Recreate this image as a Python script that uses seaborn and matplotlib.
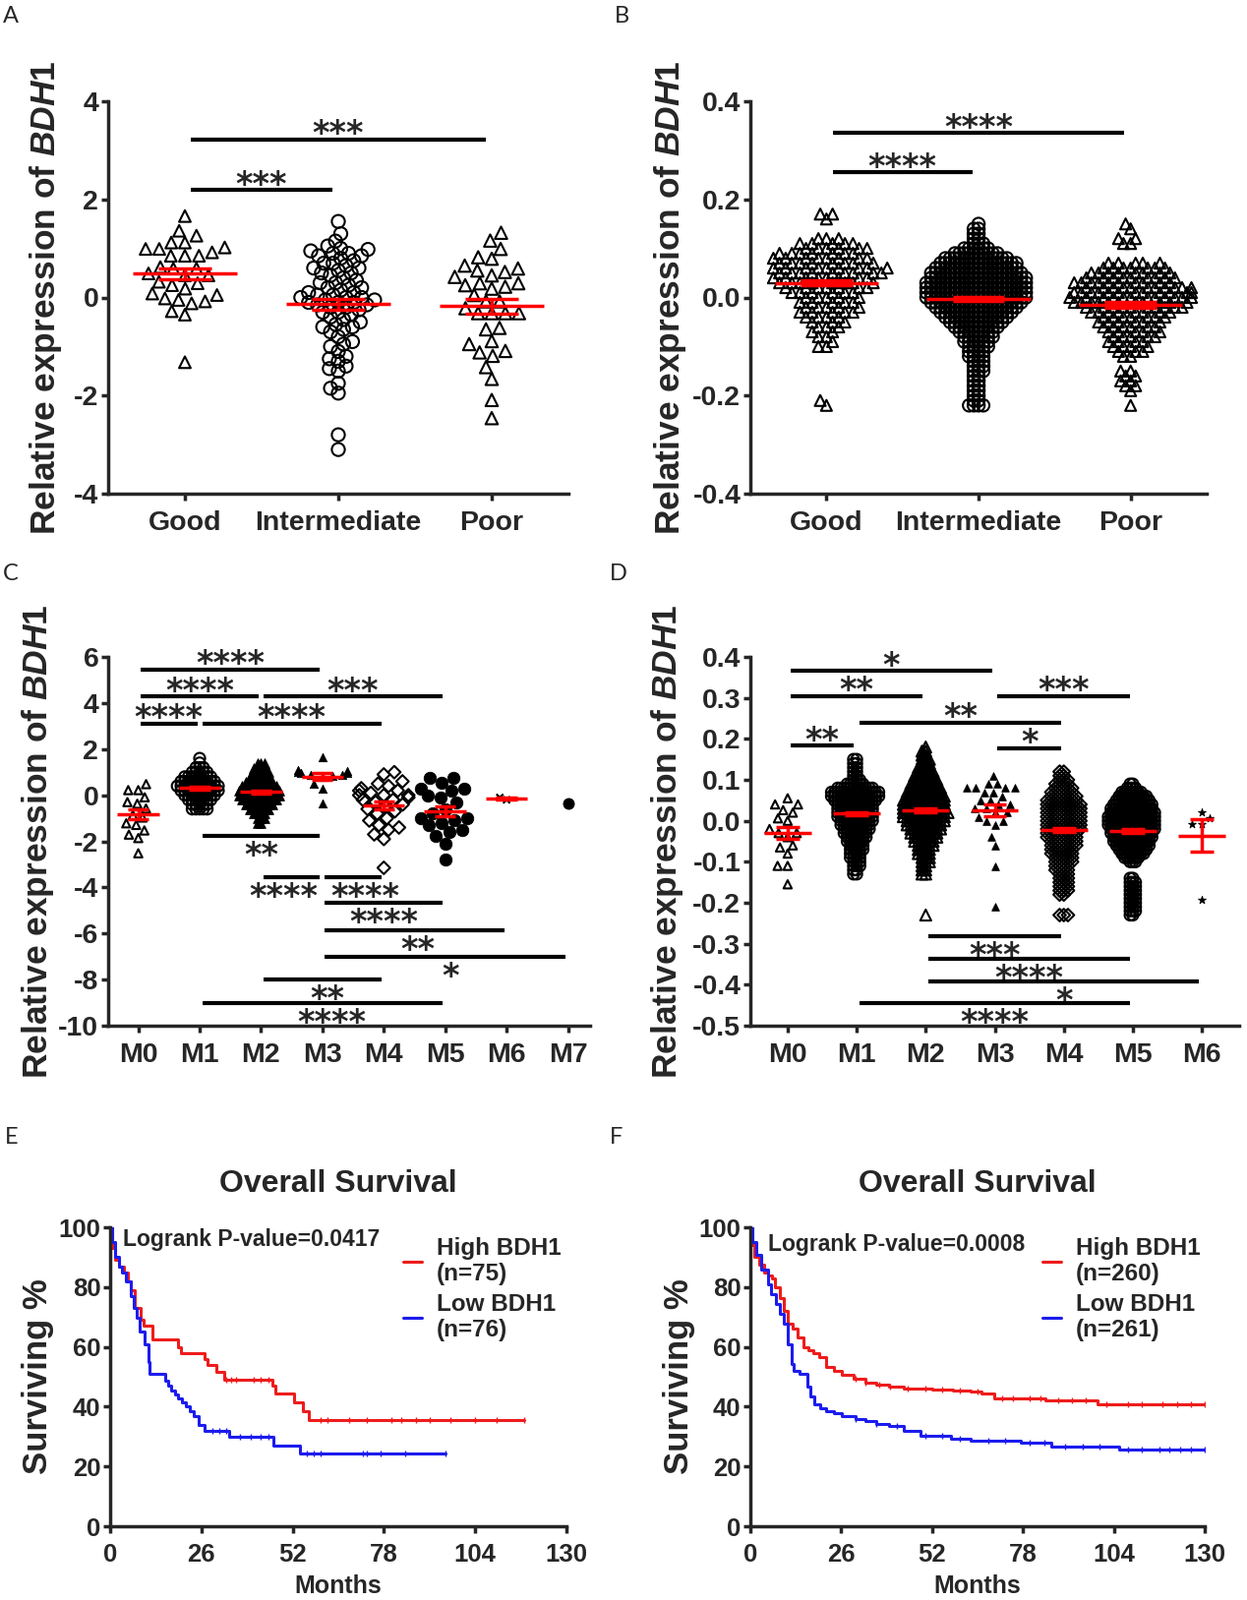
import numpy as np
import pandas as pd
import matplotlib
matplotlib.use('Agg')
import matplotlib.pyplot as plt
from matplotlib.ticker import FormatStrFormatter
import seaborn as sns

# ---------------- panel A: BDH1 by risk group (cohort 1) ----------------
risk_groups = ['Good', 'Intermediate', 'Poor']
a_good = [0.92, 0.18, 0.99, 0.59, 0.32, -0.08, 1.12, 0.85, 0.49, -0.02, 1.66, 0.85,
          0.59, 0.45, 0.25, -0.12, -0.35, -1.32, 1.36, 1.12, 0.85, 0.45, 0.05, -0.28,
          0.99, 0.62, 0.29, 0.08, 1.26, 1.02, -0.05]
a_inter = [1.55, 1.3, 1.15, 1.05, 1.0, 0.98, 0.95, 0.9, 0.9, 0.85, 0.85, 0.8, 0.75, 0.7,
           0.7, 0.65, 0.6, 0.6, 0.55, 0.5, 0.5, 0.45, 0.4, 0.35, 0.3, 0.3, 0.25, 0.2, 0.2,
           0.15, 0.1, 0.1, 0.05, 0.05, 0.0, 0.0, 0.0, -0.05, -0.05, -0.1, -0.1, -0.1, -0.15,
           -0.15, -0.2, -0.2, -0.25, -0.3, -0.3, -0.35, -0.4, -0.45, -0.5, -0.55, -0.6, -0.6,
           -0.65, -0.7, -0.8, -0.9, -0.95, -1.0, -1.1, -1.2, -1.25, -1.3, -1.4, -1.45, -1.5,
           -1.75, -1.85, -1.95, -2.8, -3.1]
a_poor = [0.79, 0.52, 0.29, -0.08, -0.32, 1.32, 0.59, 0.29, -0.32, -0.62, -0.95, -1.19,
          0.99, 0.65, 0.45, 0.25, -0.22, -0.65, -1.09, -1.42, -1.66, -2.09, -2.46, 1.16,
          0.42, 0.22, 0.05, -0.32, -0.89, -1.12, 0.82, 0.55, 0.18, -0.08, -0.32]

# ---------------- panel B: BDH1 by risk group (cohort 2) ----------------
# dense groups: value levels and the number of dots sitting on each level
b_good_lv = [0.17, 0.16, 0.12, 0.11, 0.10, 0.09, 0.08, 0.07, 0.06, 0.05, 0.04, 0.03, 0.02,
             0.01, 0.00, -0.01, -0.02, -0.03, -0.04, -0.05, -0.06, -0.07, -0.08, -0.09,
             -0.10, -0.21, -0.22]
b_good_n = [2, 1, 3, 5, 6, 7, 8, 8, 9, 9, 8, 8, 7, 6, 5, 5, 5, 5, 4, 3, 3, 2, 2, 1, 2, 1, 1]
b_inter_lv = [0.15, 0.14, 0.13, 0.12, 0.11, 0.10, 0.09, 0.08, 0.07, 0.06, 0.05, 0.04, 0.03,
              0.02, 0.01, 0.00, -0.01, -0.02, -0.03, -0.04, -0.05, -0.06, -0.07, -0.08,
              -0.09, -0.10, -0.11, -0.12, -0.13, -0.14, -0.15, -0.16, -0.17, -0.18, -0.19,
              -0.20, -0.21, -0.22]
b_inter_n = [1, 2, 2, 2, 3, 6, 10, 14, 17, 18, 20, 21, 22, 22, 22, 22, 20, 18, 16, 14, 12,
             10, 8, 7, 6, 5, 4, 4, 3, 3, 3, 2, 2, 2, 2, 2, 2, 4]
b_poor_lv = [0.15, 0.14, 0.12, 0.11, 0.07, 0.06, 0.05, 0.04, 0.03, 0.02, 0.01, 0.00, -0.01,
             -0.02, -0.03, -0.04, -0.05, -0.06, -0.07, -0.08, -0.09, -0.10, -0.11, -0.12,
             -0.15, -0.16, -0.17, -0.18, -0.19, -0.22]
b_poor_n = [1, 1, 2, 2, 5, 7, 8, 9, 10, 11, 12, 12, 11, 10, 8, 7, 6, 6, 5, 5, 4, 4, 3, 2,
            2, 2, 2, 2, 1, 1]

# ---------------- panel C: FAB subtypes (cohort 1) ----------------
fab_c = ['M0', 'M1', 'M2', 'M3', 'M4', 'M5', 'M6', 'M7']
c_m0 = [0.22, -0.37, -0.97, -1.53, 0.22, -0.3, -0.86, -1.29, -1.86, -2.52, 0.48, -0.09,
        -0.58, -1.22, -1.71]
c_m1_lv = [1.6, 1.4, 1.2, 1.0, 0.8, 0.6, 0.4, 0.2, 0.0, -0.2, -0.4, -0.6]
c_m1_n = [1, 1, 3, 5, 8, 10, 12, 11, 9, 7, 5, 5]
c_m2_lv = [1.4, 1.2, 1.0, 0.8, 0.6, 0.4, 0.2, 0.0, -0.2, -0.4, -0.6, -0.8, -1.0, -1.2]
c_m2_n = [3, 4, 5, 6, 8, 10, 12, 12, 10, 8, 6, 4, 3, 2]
c_m3 = [1.65, 1.1, 1.05, 1.0, 0.95, 0.95, 0.9, 0.9, 0.85, 0.8, 0.5, 0.3, -0.35]
c_m4 = [1.0, 0.9, 0.6, 0.5, 0.4, 0.3, 0.2, 0.2, 0.1, 0.0, 0.0, 0.0, -0.1, -0.2, -0.2,
        -0.3, -0.4, -0.5, -0.6, -0.7, -0.8, -1.0, -1.1, -1.3, -1.4, -1.5, -1.7, -1.9, -3.15]
c_m5 = [0.75, 0.75, 0.55, 0.3, 0.3, 0.2, 0.0, -0.1, -0.3, -0.6, -0.8, -1.0, -1.0, -1.1,
        -1.2, -1.3, -1.5, -1.6, -1.75, -2.1, -2.8]
c_m6 = [-0.2, -0.1]
c_m7 = [-0.35]

# ---------------- panel D: FAB subtypes (cohort 2) ----------------
fab_d = ['M0', 'M1', 'M2', 'M3', 'M4', 'M5', 'M6']
d_m0 = [0.02, -0.03, 0.04, 0.0, -0.06, -0.11, -0.02, -0.155, 0.04, 0.006, -0.03, -0.08,
        -0.11, 0.055, 0.026, -0.04, -0.065]
d_m1_lv = [0.15, 0.14, 0.13, 0.12, 0.11, 0.10, 0.09, 0.08, 0.07, 0.06, 0.05, 0.04, 0.03,
           0.02, 0.01, 0.00, -0.01, -0.02, -0.03, -0.04, -0.05, -0.06, -0.07, -0.08, -0.09,
           -0.10, -0.11, -0.12, -0.13]
d_m1_n = [2, 2, 2, 2, 2, 3, 6, 12, 16, 16, 14, 12, 12, 12, 12, 11, 10, 9, 8, 7, 6, 5, 5,
          4, 4, 3, 3, 2, 2]
d_m2_lv = [0.18, 0.17, 0.16, 0.15, 0.14, 0.13, 0.12, 0.11, 0.10, 0.09, 0.08, 0.07, 0.06,
           0.05, 0.04, 0.03, 0.02, 0.01, 0.00, -0.01, -0.02, -0.03, -0.04, -0.05, -0.06,
           -0.07, -0.08, -0.09, -0.10, -0.11, -0.12, -0.13, -0.23]
d_m2_n = [1, 2, 2, 3, 3, 4, 5, 6, 7, 8, 9, 10, 11, 12, 12, 12, 13, 12, 11, 10, 9, 8, 7, 6,
          5, 4, 4, 3, 3, 2, 2, 2, 1]
d_m3 = [0.11, 0.09, 0.09, 0.08, 0.08, 0.08, 0.08, 0.07, 0.07, 0.06, 0.05, 0.05, 0.04, 0.04,
        0.03, 0.03, 0.02, 0.02, 0.01, 0.0, 0.0, -0.01, -0.04, -0.06, -0.11, -0.21]
d_m4_lv = [0.12, 0.11, 0.10, 0.09, 0.08, 0.07, 0.06, 0.05, 0.04, 0.03, 0.02, 0.01, 0.00,
           -0.01, -0.02, -0.03, -0.04, -0.05, -0.06, -0.07, -0.08, -0.09, -0.10, -0.11,
           -0.12, -0.13, -0.14, -0.15, -0.16, -0.17, -0.18, -0.23]
d_m4_n = [2, 2, 3, 4, 5, 6, 7, 8, 9, 9, 9, 9, 9, 9, 9, 8, 8, 7, 7, 6, 6, 5, 5, 4, 4, 3, 3,
          3, 3, 3, 2, 3]
d_m5_lv = [0.09, 0.08, 0.07, 0.06, 0.05, 0.04, 0.03, 0.02, 0.01, 0.00, -0.01, -0.02, -0.03,
           -0.04, -0.05, -0.06, -0.07, -0.08, -0.09, -0.10, -0.14, -0.15, -0.16, -0.17,
           -0.18, -0.19, -0.20, -0.21, -0.22, -0.23]
d_m5_n = [2, 4, 8, 11, 13, 15, 16, 17, 18, 18, 18, 17, 16, 15, 14, 13, 11, 9, 6, 3, 2, 3,
          3, 3, 3, 3, 3, 3, 3, 2]
d_m6 = [0.021, -0.008, 0.006, -0.193, -0.008]

# significance brackets: (group 1, group 2, y level, stars, text above/below,
# optional sideways nudge of the stars in category units)
sig_a = [('Good', 'Intermediate', 2.19, '***', 'up'), ('Good', 'Poor', 3.22, '***', 'up')]
sig_b = [('Good', 'Intermediate', 0.255, '****', 'up'), ('Good', 'Poor', 0.335, '****', 'up')]
sig_c = [('M0', 'M3', 5.46, '****', 'up'), ('M0', 'M2', 4.28, '****', 'up'),
         ('M2', 'M5', 4.28, '***', 'up'), ('M0', 'M1', 3.12, '****', 'up'),
         ('M1', 'M4', 3.12, '****', 'up'), ('M1', 'M3', -1.77, '**', 'down'),
         ('M2', 'M3', -3.55, '****', 'down', -0.13), ('M3', 'M4', -3.55, '****', 'down', 0.2),
         ('M3', 'M5', -4.65, '****', 'down'), ('M3', 'M6', -5.86, '**', 'down', 0.06),
         ('M3', 'M7', -7.02, '*', 'down', 0.08), ('M2', 'M4', -7.99, '**', 'down', 0.08),
         ('M1', 'M5', -9.0, '****', 'down', 0.15)]
sig_d = [('M0', 'M3', 0.366, '*', 'up'), ('M0', 'M2', 0.304, '**', 'up'),
         ('M3', 'M5', 0.304, '***', 'up'), ('M1', 'M4', 0.239, '**', 'up'),
         ('M0', 'M1', 0.183, '**', 'up'), ('M3', 'M4', 0.178, '*', 'up'),
         ('M2', 'M4', -0.281, '***', 'down'), ('M2', 'M5', -0.337, '****', 'down'),
         ('M2', 'M6', -0.392, '*', 'down'), ('M1', 'M5', -0.444, '****', 'down')]

# ---------------- panels E/F: Kaplan-Meier curves ----------------
e_high_t = [0, 0.5, 1.5, 2.5, 4, 5, 6, 7, 8.6, 9.5, 12, 19.4, 20.3, 27, 27.6, 30.2, 32.4,
            46.2, 47, 52.3, 55, 56.5, 118]
e_high_s = [100, 93, 89, 87, 85, 82, 79, 73, 69, 67, 62.5, 60, 58, 56, 54, 51.5, 49, 47,
            44.5, 41.5, 38.5, 35.5, 35.5]
e_high_cens = [33, 34.5, 36, 41, 43, 45, 60, 62, 68, 73, 80, 83, 87, 91, 97, 104, 110, 118]
e_low_t = [0, 0.5, 1.5, 2.5, 3.5, 4.5, 5.9, 6.7, 7.5, 8.5, 9.7, 10.8, 11.3, 15.6, 16.5,
           17.3, 18.4, 19.4, 20.5, 21.6, 22.7, 23.7, 25.3, 27, 34, 46.6, 54, 95.5]
e_low_s = [100, 95, 90, 87, 85, 82, 77, 73, 69.6, 65, 61, 55, 51, 48.8, 47, 45.5, 44, 42.8,
           41.4, 40, 38.5, 36.7, 34, 32, 30, 27.1, 24.5, 24.5]
e_low_cens = [29, 31, 33, 37, 40, 43, 45, 56, 58, 60, 72, 73, 77, 84, 95.5]

f_high_t = [0, 0.5, 1.2, 2.5, 3.9, 5, 6.1, 7, 8.4, 9.5, 10.6, 12, 13.5, 15.1, 16.5, 18,
            19.6, 21.8, 24, 26.3, 29.6, 33, 36, 39.7, 44, 52, 58, 63, 66, 69.8, 84.4, 99.4,
            130]
f_high_s = [100, 94, 90, 87.4, 85, 84, 83, 80, 76.4, 72, 67.6, 66, 63, 59.9, 59, 58, 56.6,
            53.3, 52, 50.5, 49.5, 48, 47.5, 46.7, 46.2, 45.8, 45.4, 45, 44.5, 42.9, 42.1,
            40.7, 40.7]
f_high_cens = [30, 33, 37, 40, 45, 50, 55, 60, 65, 72, 75, 80, 83, 88, 92, 96, 102, 108,
               112, 118, 122, 126, 130]
f_low_t = [0, 0.5, 1.7, 3, 5, 6, 7.3, 8.5, 9.5, 10.6, 11.7, 12.5, 14, 16.2, 17.2, 18.4, 20,
           21.8, 24, 26.3, 30, 33, 36, 39.7, 44, 48.6, 57.5, 63, 77.5, 86, 105.6, 130]
f_low_s = [100, 95, 90.7, 86, 80.8, 77.5, 74.2, 71, 67.6, 61, 54.4, 52, 51, 46.7, 43.5,
           40.7, 39.6, 38.5, 37.7, 36.8, 36, 35.2, 34.3, 33.5, 31.9, 30.2, 29.3, 28.6, 28,
           26.7, 25.6, 25.6]
f_low_cens = [30, 36, 42, 50, 55, 60, 68, 73, 80, 84, 90, 95, 100, 108, 112, 117, 120, 123,
              126, 130]

# ---------------- style ----------------
sns.set_style('ticks')
plt.rcParams['font.family'] = ['Liberation Sans', 'DejaVu Sans']
plt.rcParams['font.weight'] = 'bold'
plt.rcParams['axes.unicode_minus'] = False
plt.rcParams['mathtext.fontset'] = 'custom'
plt.rcParams['mathtext.it'] = 'Liberation Sans:italic:bold'
plt.rcParams['mathtext.rm'] = 'Liberation Sans:bold'

W, H = 1268, 1627
fig = plt.figure(figsize=(W / 100, H / 100), dpi=100)


def px_box(l, t, r, b):
    return [l / W, 1 - b / H, (r - l) / W, (b - t) / H]


def style_axes(ax):
    sns.despine(ax=ax)
    for sp in ['left', 'bottom']:
        ax.spines[sp].set_linewidth(2.5)
    ax.tick_params(axis='both', direction='out', length=5, width=2.5, labelsize=20.5)
    ax.tick_params(axis='y', pad=2)
    ax.tick_params(axis='x', pad=7)


swarms = []  # (collection, drawn marker size, filled)


def dot_panel(ax, cats, groups, styles, bars, xlim, ylim, yticks, yfmt, label_x):
    for name in cats:
        vals = groups[name]
        mk, filled, ms, calc = styles[name]
        df = pd.DataFrame({'grp': [name] * len(vals), 'val': vals})
        n0 = len(ax.collections)
        sns.swarmplot(data=df, x='grp', y='val', order=cats, ax=ax, marker=mk,
                      size=calc, color='black', linewidth=0, warn_thresh=1)
        for coll in ax.collections[n0:]:
            swarms.append((coll, ms, filled))
        if len(vals) > 1:
            i = cats.index(name)
            m = np.mean(vals)
            se = np.std(vals, ddof=1) / np.sqrt(len(vals))
            ax.hlines(m, i - 0.34, i + 0.34, color='red', lw=2.5, zorder=6)
            ax.hlines([m - se, m + se], i - 0.17, i + 0.17, color='red', lw=2.5, zorder=6)
            ax.vlines(i, m - se, m + se, color='red', lw=2.5, zorder=6)

    fs = 24
    for g1, g2, y, stars, side, *nudge in bars:
        i1, i2 = cats.index(g1), cats.index(g2)
        ax.plot([i1 + 0.04, i2 - 0.04], [y, y], color='black', lw=3,
                solid_capstyle='butt', zorder=4)
        dy = 10.5 - 0.57 * fs if side == 'up' else -8.0 - 0.57 * fs
        shift = nudge[0] if nudge else 0
        ax.annotate(stars, xy=((i1 + i2) / 2 + shift, y), xytext=(0, dy),
                    textcoords='offset points', ha='center', va='baseline',
                    fontsize=fs, family='DejaVu Sans', fontweight='bold')

    ax.set_xlim(*xlim)
    ax.set_ylim(*ylim)
    ax.set_yticks(yticks)
    ax.yaxis.set_major_formatter(FormatStrFormatter(yfmt))
    ax.set_xticks(range(len(cats)))
    ax.set_xticklabels(cats)
    ax.set_xlabel('')
    ax.set_ylabel(r'Relative expression of $\mathit{BDH1}$', fontsize=25.5,
                  fontweight='bold')
    ax.yaxis.label.set_va('center')
    ax.yaxis.set_label_coords(label_x, 0.5)
    style_axes(ax)


# panel A
ax_a = fig.add_axes(px_box(110, 103, 578, 502))
dot_panel(ax_a, risk_groups,
          {'Good': a_good, 'Intermediate': a_inter, 'Poor': a_poor},
          {'Good': ('^', False, 8.5, 9.5), 'Intermediate': ('o', False, 9.5, 6.5),
           'Poor': ('^', False, 9, 9.5)},
          sig_a, (-0.5, 2.5), (-4, 4), [-4, -2, 0, 2, 4], '%d', -0.135)

# panel B
ax_b = fig.add_axes(px_box(763, 103, 1227, 502))
dot_panel(ax_b, risk_groups,
          {'Good': np.repeat(b_good_lv, b_good_n),
           'Intermediate': np.repeat(b_inter_lv, b_inter_n),
           'Poor': np.repeat(b_poor_lv, b_poor_n)},
          {'Good': ('^', False, 8, 5.6), 'Intermediate': ('o', False, 9, 3.3),
           'Poor': ('^', False, 8, 5.0)},
          sig_b, (-0.5, 2.5), (-0.4, 0.4), [-0.4, -0.2, 0, 0.2, 0.4], '%.1f', -0.175)

# panel C
ax_c = fig.add_axes(px_box(110, 668, 600, 1043))
dot_panel(ax_c, fab_c,
          {'M0': c_m0, 'M1': np.repeat(c_m1_lv, c_m1_n), 'M2': np.repeat(c_m2_lv, c_m2_n),
           'M3': c_m3, 'M4': c_m4, 'M5': c_m5, 'M6': c_m6, 'M7': c_m7},
          {'M0': ('^', False, 6, 7), 'M1': ('o', False, 8, 2.6), 'M2': ('^', True, 7, 2.6),
           'M3': ('^', True, 6, 7), 'M4': ('D', False, 6.5, 7.5), 'M5': ('o', True, 9, 9),
           'M6': ('x', False, 5, 5), 'M7': ('o', True, 8, 8)},
          sig_c, (-0.49, 7.36), (-10, 6), list(range(-10, 7, 2)), '%d', -0.145)

# panel D
ax_d = fig.add_axes(px_box(763, 668, 1260, 1043))
dot_panel(ax_d, fab_d,
          {'M0': d_m0, 'M1': np.repeat(d_m1_lv, d_m1_n), 'M2': np.repeat(d_m2_lv, d_m2_n),
           'M3': d_m3, 'M4': np.repeat(d_m4_lv, d_m4_n), 'M5': np.repeat(d_m5_lv, d_m5_n),
           'M6': d_m6},
          {'M0': ('^', False, 6, 7), 'M1': ('o', False, 8, 2.2), 'M2': ('^', False, 8, 2.6),
           'M3': ('^', True, 5.5, 6.5), 'M4': ('D', False, 6.5, 2.9),
           'M5': ('o', False, 8, 1.9), 'M6': ('*', True, 6, 7)},
          sig_d, (-0.54, 6.54), (-0.5, 0.4),
          [-0.5, -0.4, -0.3, -0.2, -0.1, 0, 0.1, 0.2, 0.3, 0.4], '%.1f', -0.17)


def km_panel(ax, curves, ptext, pxy, label_x):
    for t, s, cens, col, lab in curves:
        sns.lineplot(x=t, y=s, drawstyle='steps-post', color=col, lw=2.2, label=lab,
                     ax=ax, estimator=None, sort=False)
        idx = np.searchsorted(t, cens, side='right') - 1
        ax.plot(cens, np.asarray(s)[idx], '|', color=col, ms=4, mew=1.0)
    ax.set_xlim(0, 130)
    ax.set_ylim(0, 100)
    ax.set_xticks([0, 26, 52, 78, 104, 130])
    ax.set_yticks([0, 20, 40, 60, 80, 100])
    ax.text(pxy[0], pxy[1], ptext, fontsize=16.5, fontweight='bold', va='center')
    ax.legend(loc='upper left', bbox_to_anchor=(0.595, 1.04), frameon=False,
              handlelength=0.8, handletextpad=0.6, labelspacing=0.3,
              prop={'weight': 'bold', 'size': 17.5})
    ax.set_title('Overall Survival', fontsize=23, fontweight='bold', pad=26)
    ax.set_xlabel('Months', fontsize=18, fontweight='bold', labelpad=6)
    ax.set_ylabel('Surviving %', fontsize=25, fontweight='bold')
    ax.yaxis.label.set_va('center')
    ax.yaxis.set_label_coords(label_x, 0.5)
    style_axes(ax)
    ax.tick_params(axis='both', labelsize=18.5)


ax_e = fig.add_axes(px_box(112, 1248, 576, 1552))
km_panel(ax_e, [(e_high_t, e_high_s, e_high_cens, '#ee1c1c', 'High BDH1\n(n=75)'),
                (e_low_t, e_low_s, e_low_cens, '#1c1cee', 'Low BDH1\n(n=76)')],
         'Logrank P-value=0.0417', (3.6, 96), -0.159)

ax_f = fig.add_axes(px_box(763, 1248, 1225, 1552))
km_panel(ax_f, [(f_high_t, f_high_s, f_high_cens, '#ee1c1c', 'High BDH1\n(n=260)'),
                (f_low_t, f_low_s, f_low_cens, '#1c1cee', 'Low BDH1\n(n=261)')],
         'Logrank P-value=0.0008', (5.1, 94.4), -0.158)

# panel letters
for letter, x, y in [('A', 3, 6), ('B', 625, 6), ('C', 3, 573), ('D', 620, 573),
                     ('E', 5, 1146), ('F', 620, 1146)]:
    fig.text(x / W, 1 - y / H, letter, fontsize=17, family='Lato', fontweight='normal',
             va='top', ha='left')

# lay out the swarms with the small packing size, then draw the dots larger so they
# overlap like the original scatter
fig.canvas.draw()
for coll, ms, filled in swarms:
    coll.__dict__.pop('draw', None)
    coll.set_sizes([ms ** 2])
    coll.set_edgecolor('black')
    coll.set_facecolor('black' if filled else 'none')
    coll.set_linewidth(0.6 if filled else 1.5)

fig.savefig('out.png', dpi=100)
